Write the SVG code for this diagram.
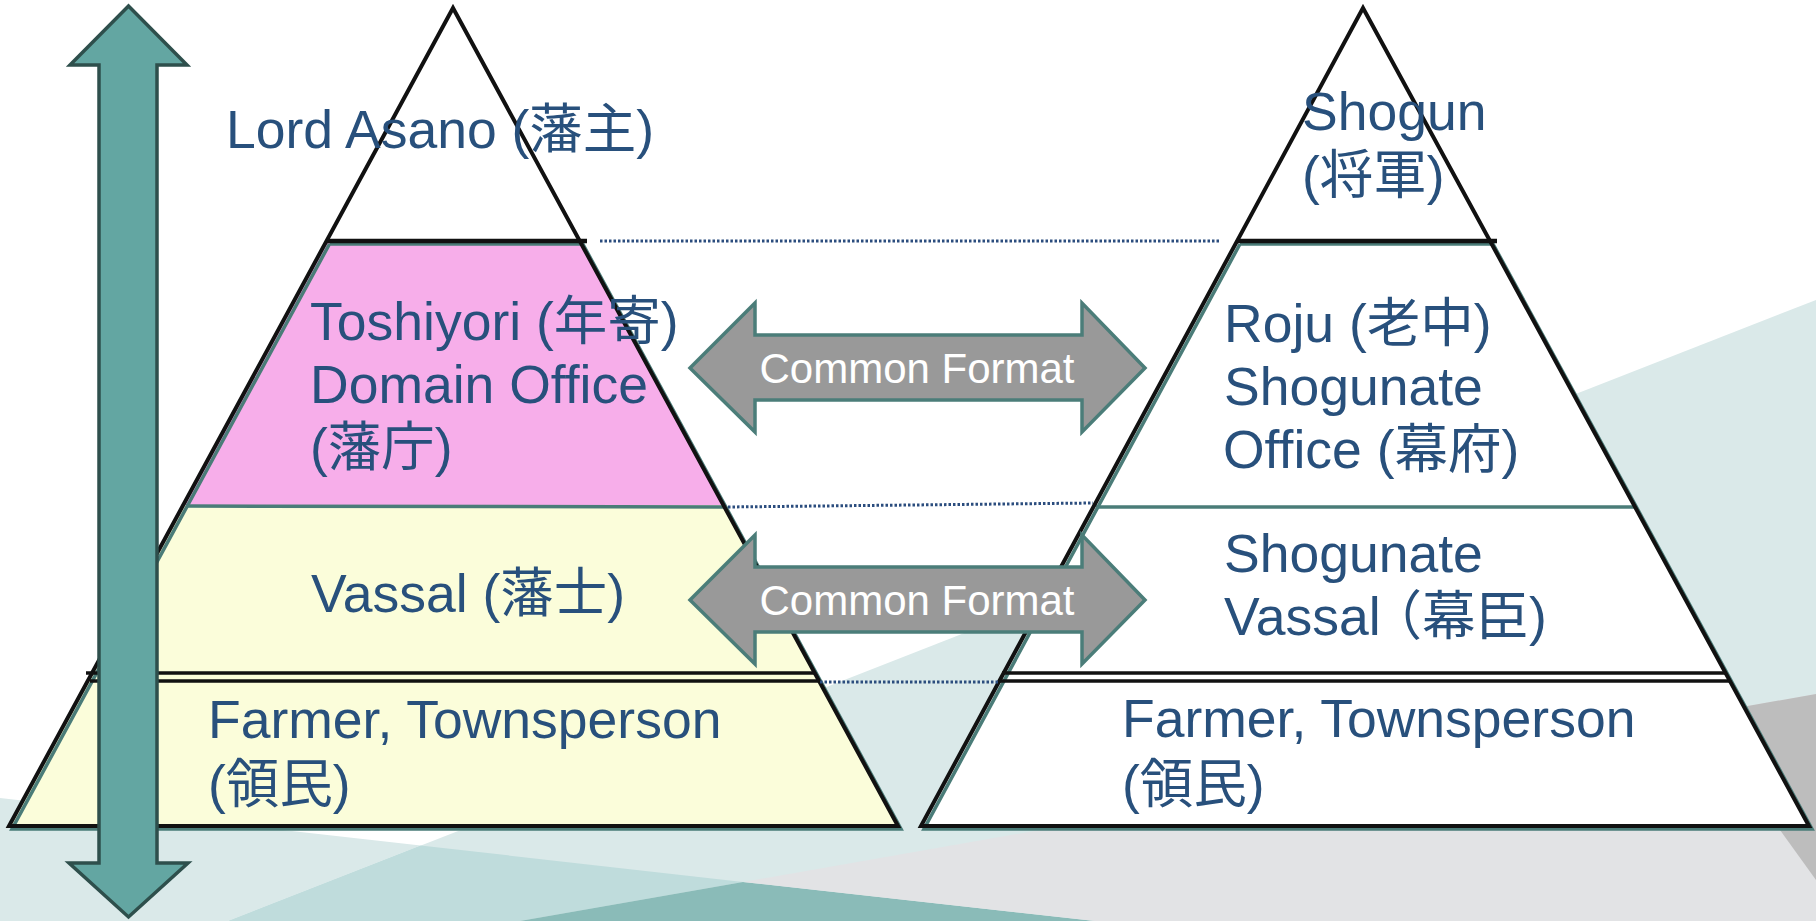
<svg xmlns="http://www.w3.org/2000/svg" width="1816" height="921" viewBox="0 0 1816 921">
<style>
.lbl{font-family:"Liberation Sans","Noto Sans CJK JP",Arial,sans-serif;font-size:53.5px;fill:#28507c}
.cf{font-family:"Liberation Sans",Arial,sans-serif;font-size:42px;fill:#ffffff;text-anchor:middle}
.blk{fill:none;stroke:#111111;stroke-width:4;stroke-linejoin:miter}
.tl{fill:none;stroke:#4a7c78;stroke-width:3.5}
.dot{fill:none;stroke:#2b4d7e;stroke-width:3;stroke-dasharray:2.5 2}
.cfa{fill:#999999;stroke:#4b7d79;stroke-width:3.5;stroke-linejoin:miter}
.varrow{fill:#63a6a2;stroke:#2e4f4c;stroke-width:3.5;stroke-linejoin:miter}
</style>
<g id="background">
<rect x="0" y="0" width="1816" height="921" fill="#ffffff"/>
<polygon points="228,921 1816,300 1816,921" fill="#dae9e9"/>
<polygon points="0,798 420.6,845.5 228,921 0,921" fill="#dae9e9"/>
<polygon points="420.6,845.5 743,882 520,921 228,921" fill="#bfdcdc"/>
<polygon points="743,882 1095,921 520,921" fill="#8abbb8"/>
<polygon points="743,882 1816,694 1816,921 1095,921" fill="#e2e3e5"/>
<polygon points="1697,715 1816,694 1816,880" fill="#bdbdbd"/>
</g>
<g id="left-pyramid">
<polygon points="453,8 326.5,241 579.8,241" fill="#ffffff"/>
<polygon points="326.5,241 579.8,241 723.4,505 183.2,505" fill="#f7aeea"/>
<polygon points="183.2,505 723.4,505 818.6,680 88.2,680" fill="#fbfdda"/>
<polygon points="88.2,680 818.6,680 898,826 9,826" fill="#fbfdda"/>
<polyline class="tl" points="329.5,244 12,829 901,829 582.8,244 329.5,244"/>
<line class="tl" x1="186" y1="506" x2="725" y2="507"/>
<polygon class="blk" points="453,8 9,826 898,826"/>
<line x1="326" y1="241" x2="587" y2="241" stroke="#111111" stroke-width="4.5"/>
<line x1="86" y1="673" x2="814" y2="673" stroke="#111111" stroke-width="3.5"/>
<line x1="90" y1="681" x2="818" y2="681" stroke="#111111" stroke-width="3.5"/>
</g>
<g id="right-pyramid">
<polygon points="1363,8 1237.1,241 1490,241" fill="#ffffff"/>
<polygon points="1237.1,241 1490,241 1634.5,506 1094,506" fill="#ffffff"/>
<polygon points="1094,506 1634.5,506 1729.4,680 999.9,680" fill="#ffffff"/>
<polygon points="999.9,680 1729.4,680 1809,826 921,826" fill="#ffffff"/>
<polyline class="tl" points="1240,244 924,829 1812,829 1493,244 1240,244"/>
<line class="tl" x1="1096" y1="507" x2="1636" y2="507"/>
<polygon class="blk" points="1363,8 921,826 1809,826"/>
<line x1="1237" y1="241" x2="1497" y2="241" stroke="#111111" stroke-width="4.5"/>
<line x1="1002" y1="673" x2="1725" y2="673" stroke="#111111" stroke-width="3.5"/>
<line x1="998" y1="681" x2="1729" y2="681" stroke="#111111" stroke-width="3.5"/>
</g>
<g id="connectors">
<line class="dot" x1="600" y1="241" x2="1220" y2="241"/>
<line class="dot" x1="728" y1="507" x2="1093" y2="503"/>
<line class="dot" x1="820" y1="682" x2="998" y2="682"/>
</g>
<g id="left-labels">
<text class="lbl" x="226" y="148">Lord Asano (藩主)</text>
<text class="lbl" x="310" y="340">Toshiyori (年寄)</text>
<text class="lbl" x="310" y="403">Domain Office</text>
<text class="lbl" x="310" y="466">(藩庁)</text>
<text class="lbl" x="311" y="612">Vassal (藩士)</text>
<text class="lbl" x="208" y="738">Farmer, Townsperson</text>
<text class="lbl" x="208" y="803">(領民)</text>
</g>
<g id="right-labels">
<text class="lbl" x="1302" y="130">Shogun</text>
<text class="lbl" x="1302" y="194">(将軍)</text>
<text class="lbl" x="1224" y="342">Roju (老中)</text>
<text class="lbl" x="1224" y="405">Shogunate</text>
<text class="lbl" x="1223" y="468">Office (幕府)</text>
<text class="lbl" x="1224" y="572">Shogunate</text>
<text class="lbl" x="1224" y="635">Vassal<tspan dx="-12">（幕臣)</tspan></text>
<text class="lbl" x="1122" y="737">Farmer, Townsperson</text>
<text class="lbl" x="1122" y="803">(領民)</text>
</g>
<g id="vertical-arrow">
<polygon class="varrow" points="128.5,6 187,65 157,65 157,863 188,863 128.5,917 69,863 99,863 99,65 70,65"/>
</g>
<g id="common-format-upper">
<polygon class="cfa" points="690,368 755,303 755,335 1082,335 1082,303 1145,368 1082,432 1082,400 755,400 755,432"/>
<text class="cf" x="917" y="383">Common Format</text>
</g>
<g id="common-format-lower">
<polygon class="cfa" points="690,600 755,535 755,567 1082,567 1082,535 1145,600 1082,664 1082,632 755,632 755,664"/>
<text class="cf" x="917" y="615">Common Format</text>
</g>
</svg>
